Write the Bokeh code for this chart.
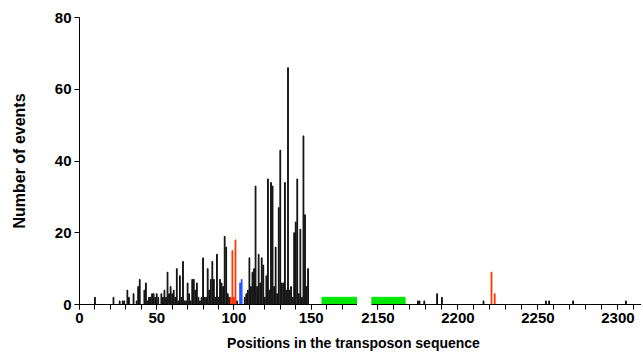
from bokeh.plotting import figure
from bokeh.models import Range1d, FixedTicker, Label
from bokeh.layouts import row, column
from bokeh.embed import file_html
from bokeh.resources import INLINE

# ---- data ----
left_pos = [10, 22, 26, 28, 29, 31, 32, 35, 37, 38, 39, 42, 43, 44, 45, 46, 47, 48, 49, 50,
            51, 53, 54, 55, 56, 57, 58, 59, 60, 61, 62, 63, 64, 65, 66, 67, 68, 69, 70, 71,
            72, 73, 74, 75, 76, 77, 78, 79, 80, 81, 82, 83, 84, 85, 86, 87, 88, 89, 90, 91,
            92, 93, 94, 95, 96, 97, 102, 107, 108, 109, 110, 111, 112, 113, 114, 115, 116,
            117, 118, 119, 120, 121, 122, 123, 124, 125, 126, 127, 128, 129, 130, 131, 132,
            133, 134, 135, 136, 137, 138, 139, 140, 141, 142, 143, 144, 145, 146, 147, 148]
left_cnt = [2, 2, 1, 1, 1, 4, 2, 3, 1, 5, 7, 4, 6, 1, 2, 2, 3, 3, 2, 3,
            2, 3, 2, 4, 2, 9, 3, 5, 3, 4, 2, 10, 1, 8, 2, 12, 1, 1, 6, 3,
            1, 7, 7, 4, 6, 2, 1, 2, 13, 2, 2, 10, 4, 7, 12, 7, 2, 14, 2, 7,
            6, 5, 19, 16, 3, 2, 1, 2, 3, 4, 13, 5, 9, 10, 33, 5, 14,
            6, 13, 11, 2, 8, 35, 4, 34, 33, 5, 16, 3, 27, 43, 6, 6,
            34, 4, 66, 4, 5, 2, 20, 23, 35, 3, 21, 2, 47, 25, 5, 10]
red_left_pos = [98, 99, 100, 101]
red_left_cnt = [2, 15, 2, 18]
blue_pos = [104, 105]
blue_cnt = [6, 7]

right_pos = [2175, 2176, 2179, 2187, 2190, 2216, 2255, 2257, 2272, 2305]
right_cnt = [1, 1, 1, 3, 2, 1, 1, 1, 1, 1]
red_right_pos = [2221, 2223]
red_right_cnt = [9, 3]

green_left = [157, 180]
green_right = [2146, 2167]

y_ticks = [0, 20, 40, 60, 80]
x_left_ticks = [0, 50, 100, 150]
x_left_minor = list(range(0, 181, 10))
x_right_ticks = [2150, 2200, 2250, 2300]
x_right_minor = list(range(2150, 2311, 10))

FONT = "Liberation Sans"
BAR_W = 0.5


def style_x(ax, ticks, minor):
    ax.ticker = FixedTicker(ticks=ticks, minor_ticks=minor)
    ax.major_tick_out = 5
    ax.major_tick_in = 0
    ax.minor_tick_out = 5
    ax.minor_tick_in = 0
    ax.axis_line_color = "black"
    ax.major_tick_line_color = "black"
    ax.minor_tick_line_color = "black"
    ax.major_label_text_font = FONT
    ax.major_label_text_font_style = "bold"
    ax.major_label_text_font_size = "15px"
    ax.major_label_text_color = "black"
    ax.major_label_standoff = 3


left = figure(width=357, height=334, x_range=Range1d(0, 180), y_range=Range1d(0, 80),
              output_backend="svg", toolbar_location=None, title=None,
              min_border_left=79, min_border_right=0, min_border_top=17, min_border_bottom=30)
left.vbar(x=left_pos, top=left_cnt, width=BAR_W, bottom=0, color="#111111")
left.vbar(x=red_left_pos, top=red_left_cnt, width=BAR_W, bottom=0, color="#ff3300")
left.vbar(x=blue_pos, top=blue_cnt, width=BAR_W, bottom=0, color="#2255ff")
left.quad(left=[green_left[0]], right=[green_left[1]], bottom=[0], top=[2], color="#00e600")

right = figure(width=284, height=334, x_range=Range1d(2146, 2314.75), y_range=Range1d(0, 80),
               output_backend="svg", toolbar_location=None, title=None, y_axis_location=None,
               min_border_left=14, min_border_right=0, min_border_top=17, min_border_bottom=30)
right.vbar(x=right_pos, top=right_cnt, width=BAR_W, bottom=0, color="#111111")
right.vbar(x=red_right_pos, top=red_right_cnt, width=BAR_W, bottom=0, color="#ff3300")
right.quad(left=[green_right[0]], right=[green_right[1]], bottom=[0], top=[2], color="#00e600")

for p in (left, right):
    p.grid.visible = False
    p.outline_line_color = None
    p.background_fill_color = "white"

style_x(left.xaxis[0], x_left_ticks, x_left_minor)
style_x(right.xaxis[0], x_right_ticks, x_right_minor)

ya = left.yaxis[0]
ya.ticker = FixedTicker(ticks=y_ticks)
ya.minor_tick_line_color = None
ya.major_tick_out = 5
ya.major_tick_in = 0
ya.axis_line_color = "black"
ya.major_tick_line_color = "black"
ya.major_label_text_font = FONT
ya.major_label_text_font_style = "bold"
ya.major_label_text_font_size = "15px"
ya.major_label_text_color = "black"
ya.major_label_standoff = 3
ya.axis_label = "Number of events"
ya.axis_label_text_font = FONT
ya.axis_label_text_font_style = "bold"
ya.axis_label_text_font_size = "16px"
ya.axis_label_text_color = "black"
ya.axis_label_standoff = 24

lab = figure(width=641, height=22, x_range=Range1d(0, 641), y_range=Range1d(0, 22),
             output_backend="svg", toolbar_location=None, title=None,
             x_axis_location=None, y_axis_location=None, min_border=0)
lab.grid.visible = False
lab.outline_line_color = None
lab.add_layout(Label(x=353, y=22, text="Positions in the transposon sequence",
                     text_align="center", text_baseline="top", text_font=FONT,
                     text_font_style="bold", text_font_size="14px", text_color="black"))

layout = column(row(left, right), lab)
open("out.html", "w").write(file_html(layout, INLINE))
